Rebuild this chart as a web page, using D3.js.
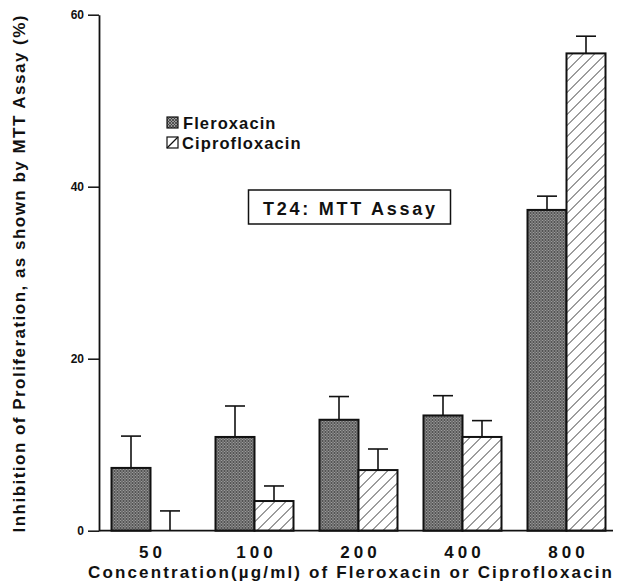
<!DOCTYPE html>
<html><head><meta charset="utf-8">
<script src="https://cdn.jsdelivr.net/npm/d3@7"></script>
<style>body{margin:0;background:#fff}svg{display:block}text{font-family:"Liberation Sans",Arial,sans-serif;font-weight:bold;fill:#111}</style>
</head><body>
<script>
const categories = ["50","100","200","400","800"];
const seriesNames = ["Fleroxacin","Ciprofloxacin"];
const fleroxacin = [7.3, 10.9, 12.9, 13.4, 37.3];
const fleroxacinErr = [11.0, 14.5, 15.6, 15.7, 38.9];
const ciprofloxacin = [0, 3.45, 7.05, 10.9, 55.5];
const ciprofloxacinErr = [2.3, 5.2, 9.5, 12.8, 57.5];
const yTicks = [0, 20, 40, 60];

const W = 624, H = 586;
const svg = d3.select("body").append("svg").attr("width", W).attr("height", H);
const defs = svg.append("defs");
const pf = defs.append("pattern").attr("id","pf").attr("patternUnits","userSpaceOnUse").attr("width",3).attr("height",3);
pf.append("rect").attr("width",3).attr("height",3).attr("fill","#9c9c9c");
pf.append("path").attr("d","M0,3L3,0M0,0L3,3").attr("stroke","#333").attr("stroke-width",0.7);
const pc = defs.append("pattern").attr("id","pc").attr("patternUnits","userSpaceOnUse").attr("width",11).attr("height",11);
pc.append("rect").attr("width",11).attr("height",11).attr("fill","#fff");
pc.append("path").attr("d","M-1,1L1,-1M0,11L11,0M10,12L12,10").attr("stroke","#222").attr("stroke-width",0.9);

const x0 = 99, x1 = 613;
const y = d3.scaleLinear().domain([0,60]).range([530.7, 14.7]);
const xg = d3.scaleBand().domain(categories).range([98.5, 618.5]).paddingInner(0.25).paddingOuter(0.125);
const xs = d3.scaleBand().domain(seriesNames).range([0, xg.bandwidth()]);

const data = categories.map((c,i)=>({c, vals:[
  {s:"Fleroxacin", v:fleroxacin[i], e:fleroxacinErr[i]},
  {s:"Ciprofloxacin", v:ciprofloxacin[i], e:ciprofloxacinErr[i]}]}));

const g = svg.selectAll("g.grp").data(data).join("g").attr("transform", d=>`translate(${xg(d.c)},0)`);
g.selectAll("g.err").data(d=>d.vals).join("g").each(function(d){
  const cx = xs(d.s) + xs.bandwidth()/2;
  const s = d3.select(this);
  s.append("line").attr("x1",cx).attr("x2",cx).attr("y1",y(d.v)).attr("y2",y(d.e)).attr("stroke","#111").attr("stroke-width",1.6);
  s.append("line").attr("x1",cx-10).attr("x2",cx+10).attr("y1",y(d.e)).attr("y2",y(d.e)).attr("stroke","#111").attr("stroke-width",1.6);
});
g.selectAll("rect.bar").data(d=>d.vals.filter(v=>v.v>0)).join("rect").attr("class","bar")
  .attr("x", d=>xs(d.s)).attr("width", xs.bandwidth())
  .attr("y", d=>y(d.v)).attr("height", d=>y(0)-y(d.v))
  .attr("fill", d=> d.s==="Fleroxacin" ? "url(#pf)" : "url(#pc)")
  .attr("stroke","#111").attr("stroke-width",2);

const yAxis = d3.axisLeft(y).tickValues(yTicks).tickSize(11).tickPadding(4).tickSizeOuter(0);
const ya = svg.append("g").attr("transform",`translate(${x0},0)`).call(yAxis);
ya.select(".domain").attr("stroke","#111").attr("stroke-width",1.8);
ya.selectAll(".tick line").attr("stroke","#111").attr("stroke-width",1.5);
ya.selectAll(".tick text").style("font-size","12px").style("font-family","Liberation Sans, Arial, sans-serif").style("font-weight","bold").attr("fill","#111");
svg.append("line").attr("x1",x0).attr("x2",x1).attr("y1",y(0)).attr("y2",y(0)).attr("stroke","#111").attr("stroke-width",1.8);

svg.selectAll("text.xl").data(categories).join("text").attr("class","xl")
  .attr("x", d=>xg(d)+xg.bandwidth()/2 + 2).attr("y",558).attr("text-anchor","middle")
  .style("font-size","17px").style("letter-spacing","4px").text(d=>d);
svg.append("text").attr("x",350).attr("y",578).attr("text-anchor","middle")
  .attr("textLength",524).attr("lengthAdjust","spacing")
  .style("font-size","17px").text("Concentration(µg/ml)  of  Fleroxacin  or  Ciprofloxacin");
svg.append("text").attr("transform","translate(25,274) rotate(-90)").attr("text-anchor","middle")
  .attr("textLength",517).attr("lengthAdjust","spacing")
  .style("font-size","17px").text("Inhibition of Proliferation, as shown by MTT Assay (%)");

const lg = svg.append("g").attr("transform","translate(167,117)");
lg.append("rect").attr("x",0).attr("y",0).attr("width",11).attr("height",11).attr("fill","url(#pf)").attr("stroke","#111").attr("stroke-width",1.2);
lg.append("text").attr("x",16).attr("y",11.5).style("font-size","16.5px").style("letter-spacing","1.1px").text(seriesNames[0]);
lg.append("rect").attr("x",0).attr("y",20).attr("width",11).attr("height",11).attr("fill","#fff").attr("stroke","#111").attr("stroke-width",1.2);
lg.append("line").attr("x1",0).attr("y1",31).attr("x2",11).attr("y2",20).attr("stroke","#111").attr("stroke-width",1.2);
lg.append("text").attr("x",15).attr("y",31.5).style("font-size","16.5px").style("letter-spacing","1.1px").text(seriesNames[1]);

svg.append("rect").attr("x",248.5).attr("y",190).attr("width",202).attr("height",34).attr("fill","#fff").attr("stroke","#111").attr("stroke-width",1.5);
svg.append("text").attr("x",349).attr("y",214.5).attr("text-anchor","middle")
  .attr("textLength",172).attr("lengthAdjust","spacing")
  .style("font-size","18px").text("T24:  MTT  Assay");
</script>
</body></html>
